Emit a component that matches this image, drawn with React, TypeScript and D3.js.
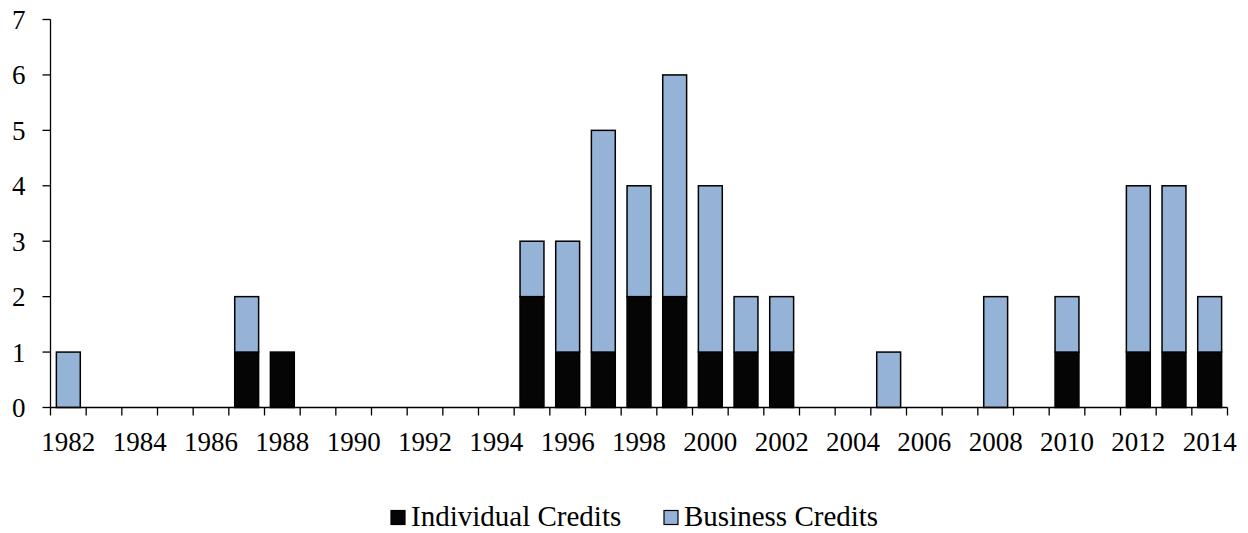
import React, { useEffect, useRef } from 'react';
import * as d3 from 'd3';

const years = d3.range(1982, 2015);
// non-zero years only, the rest are 0
const individualByYear: Record<number, number> = {
  1987: 1, 1988: 1, 1995: 2, 1996: 1, 1997: 1, 1998: 2, 1999: 2, 2000: 1,
  2001: 1, 2002: 1, 2010: 1, 2012: 1, 2013: 1, 2014: 1,
};
const businessByYear: Record<number, number> = {
  1982: 1, 1987: 1, 1995: 1, 1996: 2, 1997: 4, 1998: 2, 1999: 4, 2000: 3,
  2001: 1, 2002: 1, 2005: 1, 2008: 2, 2010: 1, 2012: 3, 2013: 3, 2014: 1,
};
const seriesNames = ['Individual Credits', 'Business Credits'];
const seriesColors = ['#050505', '#95b3d7'];
const yTicks = [0, 1, 2, 3, 4, 5, 6, 7];

const FONT = '"Liberation Serif", "Times New Roman", serif';

export default function App() {
  const ref = useRef<SVGSVGElement>(null);

  useEffect(() => {
    document.body.style.margin = '0';
    const width = 1248;
    const height = 533;
    const margin = { top: 19.5, left: 50.5, right: 20.5, bottom: 125.5 };

    const svg = d3.select(ref.current);
    svg.selectAll('*').remove();

    const rows = years.map(y => ({
      year: y,
      individual: individualByYear[y] || 0,
      business: businessByYear[y] || 0,
    }));

    const x = d3.scaleBand<number>()
      .domain(years)
      .range([margin.left, width - margin.right])
      .paddingInner(0.33)
      .paddingOuter(0.165);

    const y = d3.scaleLinear()
      .domain([0, 7])
      .range([height - margin.bottom, margin.top]);

    const stack = d3.stack<any>().keys(['individual', 'business']);
    const layers = stack(rows);

    svg.append('g')
      .selectAll('g')
      .data(layers)
      .join('g')
      .attr('fill', (d, i) => seriesColors[i])
      .selectAll('rect')
      .data(d => d.filter(p => p[1] - p[0] > 0))
      .join('rect')
      .attr('x', d => x(d.data.year)!)
      .attr('y', d => y(d[1]))
      .attr('width', x.bandwidth())
      .attr('height', d => y(d[0]) - y(d[1]))
      .attr('stroke', '#000')
      .attr('stroke-width', 1.5);

    // y axis
    const yAxis = svg.append('g').attr('transform', `translate(${margin.left},0)`);
    yAxis.append('line')
      .attr('y1', y(0)).attr('y2', y(7))
      .attr('stroke', '#000').attr('stroke-width', 1.3);
    yAxis.selectAll('line.tick')
      .data(yTicks)
      .join('line')
      .attr('class', 'tick')
      .attr('x1', -8).attr('x2', 0)
      .attr('y1', d => y(d)).attr('y2', d => y(d))
      .attr('stroke', '#000').attr('stroke-width', 1.3);
    yAxis.selectAll('text')
      .data(yTicks)
      .join('text')
      .attr('x', -25)
      .attr('y', d => y(d))
      .attr('dy', '0.35em')
      .attr('text-anchor', 'end')
      .attr('font-family', FONT)
      .attr('font-size', 27)
      .text(d => d);

    // x axis
    const step = x.step();
    const x0 = margin.left;
    const xAxis = svg.append('g').attr('transform', `translate(0,${y(0)})`);
    xAxis.append('line')
      .attr('x1', x0).attr('x2', width - margin.right)
      .attr('stroke', '#000').attr('stroke-width', 1.3);
    xAxis.selectAll('line.tick')
      .data(d3.range(years.length + 1))
      .join('line')
      .attr('class', 'tick')
      .attr('x1', i => x0 + i * step).attr('x2', i => x0 + i * step)
      .attr('y1', 0).attr('y2', 8)
      .attr('stroke', '#000').attr('stroke-width', 1.3);
    xAxis.selectAll('text')
      .data(years.filter(yr => (yr - 1982) % 2 === 0))
      .join('text')
      .attr('x', d => x(d)! + x.bandwidth() / 2)
      .attr('y', 43)
      .attr('text-anchor', 'middle')
      .attr('font-family', FONT)
      .attr('font-size', 27)
      .text(d => d);

    // legend
    const legendX = [391, 664];
    const legend = svg.append('g');
    seriesNames.forEach((name, i) => {
      legend.append('rect')
        .attr('x', legendX[i]).attr('y', 510.5)
        .attr('width', 14).attr('height', 14)
        .attr('fill', seriesColors[i])
        .attr('stroke', '#000').attr('stroke-width', 1.2);
      legend.append('text')
        .attr('x', legendX[i] + 20).attr('y', 526)
        .attr('font-family', FONT)
        .attr('font-size', 29)
        .text(name);
    });
  }, []);

  return <svg ref={ref} width={1248} height={533} style={{ display: 'block' }} />;
}
